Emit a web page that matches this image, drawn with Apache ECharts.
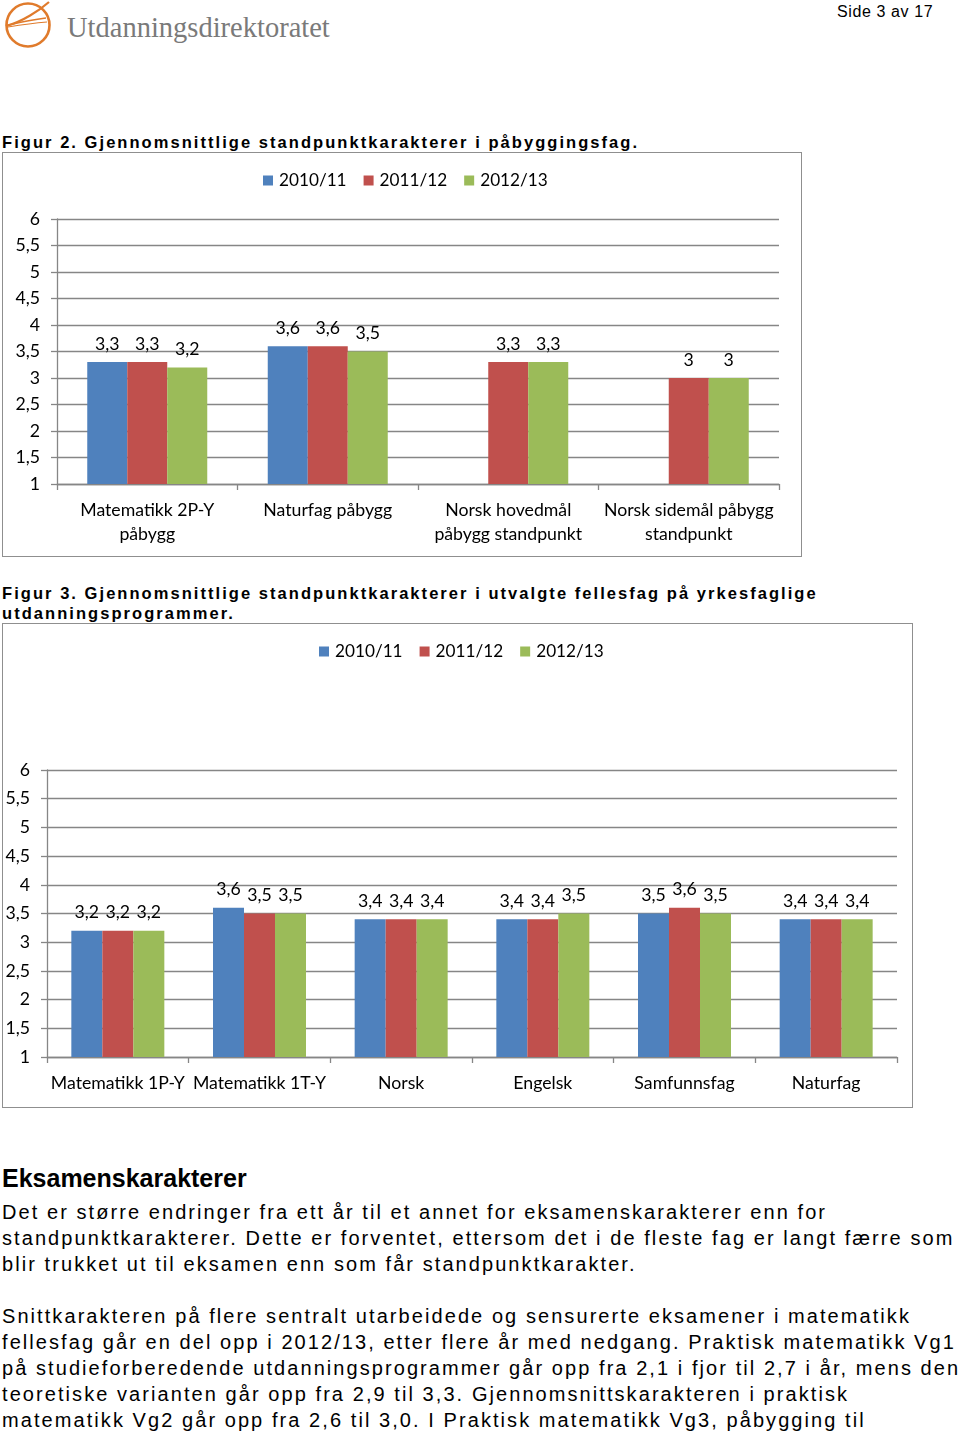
<!DOCTYPE html>
<html><head><meta charset="utf-8">
<script src="https://cdn.jsdelivr.net/npm/echarts@6/dist/echarts.min.js"></script>
<style>
html,body{margin:0;padding:0;background:#fff;}
body{width:960px;height:1433px;position:relative;overflow:hidden;font-family:"Liberation Sans",Arial,sans-serif;color:#000;}
.abs{position:absolute;white-space:nowrap;}
.cap{font-weight:bold;font-size:16.5px;letter-spacing:2.05px;line-height:20px;left:2px;}
.para{font-size:20px;letter-spacing:2.07px;line-height:26px;left:2px;}
.box{position:absolute;border:1.5px solid #8f8f8f;box-sizing:border-box;pointer-events:none;}
</style></head>
<body>
<svg class="abs" style="left:0;top:0" width="60" height="52" viewBox="0 0 60 52">
  <circle cx="28" cy="25" r="21.5" fill="none" stroke="#e07b2c" stroke-width="2.6"/>
  <path d="M49 2 C40 10 22 22 6 26" fill="none" stroke="#e07b2c" stroke-width="2.2"/>
  <path d="M6 26 C18 22 32 20 46 18" fill="none" stroke="#e07b2c" stroke-width="1.4"/>
  <path d="M8 27 C20 25 34 23 47 22" fill="none" stroke="#e07b2c" stroke-width="1.2"/>
</svg>
<div class="abs" style="left:67px;top:11px;font-family:'Liberation Serif',serif;font-size:28.5px;color:#7a7a7a;line-height:34px;">Utdanningsdirektoratet</div>
<div class="abs" style="left:837px;top:3px;font-size:16px;letter-spacing:0.6px;line-height:18px;">Side 3 av 17</div>

<div class="abs cap" style="top:132px;">Figur 2. Gjennomsnittlige standpunktkarakterer i påbyggingsfag.</div>
<div id="c1" class="abs" style="left:0;top:150px;width:804px;height:410px;"></div>
<div class="box" style="left:2px;top:152px;width:800px;height:405px;"></div>

<div class="abs cap" style="top:583px;">Figur 3. Gjennomsnittlige standpunktkarakterer i utvalgte fellesfag på yrkesfaglige<br>utdanningsprogrammer.</div>
<div id="c2" class="abs" style="left:0;top:620px;width:916px;height:492px;"></div>
<div class="box" style="left:2px;top:623px;width:911px;height:485px;"></div>

<div class="abs" style="left:2px;top:1164px;font-weight:bold;font-size:25px;line-height:28px;">Eksamenskarakterer</div>
<div class="abs para" style="top:1199px;">Det er større endringer fra ett år til et annet for eksamenskarakterer enn for<br>standpunktkarakterer. Dette er forventet, ettersom det i de fleste fag er langt færre som<br>blir trukket ut til eksamen enn som får standpunktkarakter.</div>
<div class="abs para" style="top:1303px;">Snittkarakteren på flere sentralt utarbeidede og sensurerte eksamener i matematikk<br>fellesfag går en del opp i 2012/13, etter flere år med nedgang. Praktisk matematikk Vg1<br>på studieforberedende utdanningsprogrammer går opp fra 2,1 i fjor til 2,7 i år, mens den<br>teoretiske varianten går opp fra 2,9 til 3,3. Gjennomsnittskarakteren i praktisk<br>matematikk Vg2 går opp fra 2,6 til 3,0. I Praktisk matematikk Vg3, påbygging til</div>

<script>
// ---- Data ----
const seriesNames = ['2010/11', '2011/12', '2012/13'];
const seriesColors = ['#4f81bd', '#c0504d', '#9bbb59'];

const fig2Categories = ['Matematikk 2P-Y\npåbygg', 'Naturfag påbygg', 'Norsk hovedmål\npåbygg standpunkt', 'Norsk sidemål påbygg\nstandpunkt'];
const fig2_2010 = [3.3, 3.6, null, null];
const fig2_2011 = [3.3, 3.6, 3.3, 3.0];
const fig2_2012 = [3.2, 3.5, 3.3, 3.0];

const fig3Categories = ['Matematikk 1P-Y', 'Matematikk 1T-Y', 'Norsk', 'Engelsk', 'Samfunnsfag', 'Naturfag'];
const fig3_2010 = [3.2, 3.6, 3.4, 3.4, 3.5, 3.4];
const fig3_2011 = [3.2, 3.5, 3.4, 3.4, 3.6, 3.4];
const fig3_2012 = [3.2, 3.5, 3.4, 3.5, 3.5, 3.4];

const yMin = 1, yMax = 6, yStep = 0.5;

// ---- Helpers ----
const FONT = 'Lato';
const FS = 17.7;
const fmt = v => String(v).replace('.', ',');

function makeOption(cfg) {
  const data = [cfg.s1, cfg.s2, cfg.s3];
  return {
    animation: false,
    textStyle: { fontFamily: FONT },
    legend: {
      data: seriesNames,
      left: cfg.legendLeft, top: cfg.legendTop, padding: 0,
      icon: 'rect', itemWidth: 10, itemHeight: 10, itemGap: 17,
      textStyle: { fontFamily: FONT, fontSize: 17.2, color: '#000', padding: [0, 0, 0, 1] }
    },
    grid: cfg.grid,
    xAxis: {
      type: 'category', data: cfg.categories,
      axisLine: { lineStyle: { color: '#868686', width: 1.3 } },
      axisTick: { show: true, length: 6, lineStyle: { color: '#868686', width: 1.3 } },
      axisLabel: { fontFamily: FONT, fontSize: FS, color: '#000', margin: 14, lineHeight: 24, interval: 0 }
    },
    yAxis: {
      type: 'value', min: yMin, max: yMax, interval: yStep,
      axisLine: { show: true, lineStyle: { color: '#868686', width: 1.3 } },
      axisTick: { show: true, length: 6, lineStyle: { color: '#868686', width: 1.3 } },
      splitLine: { lineStyle: { color: '#868686', width: 1.3 } },
      axisLabel: { fontFamily: FONT, fontSize: FS, color: '#000', margin: 17, formatter: fmt }
    },
    series: seriesNames.map((n, i) => ({
      name: n, type: 'bar', data: data[i],
      barWidth: cfg.barWidth, barGap: '0%',
      itemStyle: { color: seriesColors[i] },
      label: { show: true, position: 'top', distance: 9, fontFamily: FONT, fontSize: FS, color: '#000', formatter: p => fmt(p.value) }
    }))
  };
}

const c1 = echarts.init(document.getElementById('c1'));
c1.setOption(makeOption({
  categories: fig2Categories, s1: fig2_2010, s2: fig2_2011, s3: fig2_2012,
  grid: { left: 57, right: 25, top: 69, bottom: 76, containLabel: false },
  barWidth: 40, legendLeft: 263, legendTop: 22
}));

const c2 = echarts.init(document.getElementById('c2'));
c2.setOption(makeOption({
  categories: fig3Categories, s1: fig3_2010, s2: fig3_2011, s3: fig3_2012,
  grid: { left: 47, right: 19, top: 150, bottom: 55, containLabel: false },
  barWidth: 31, legendLeft: 319, legendTop: 23
}));
</script>
</body></html>
